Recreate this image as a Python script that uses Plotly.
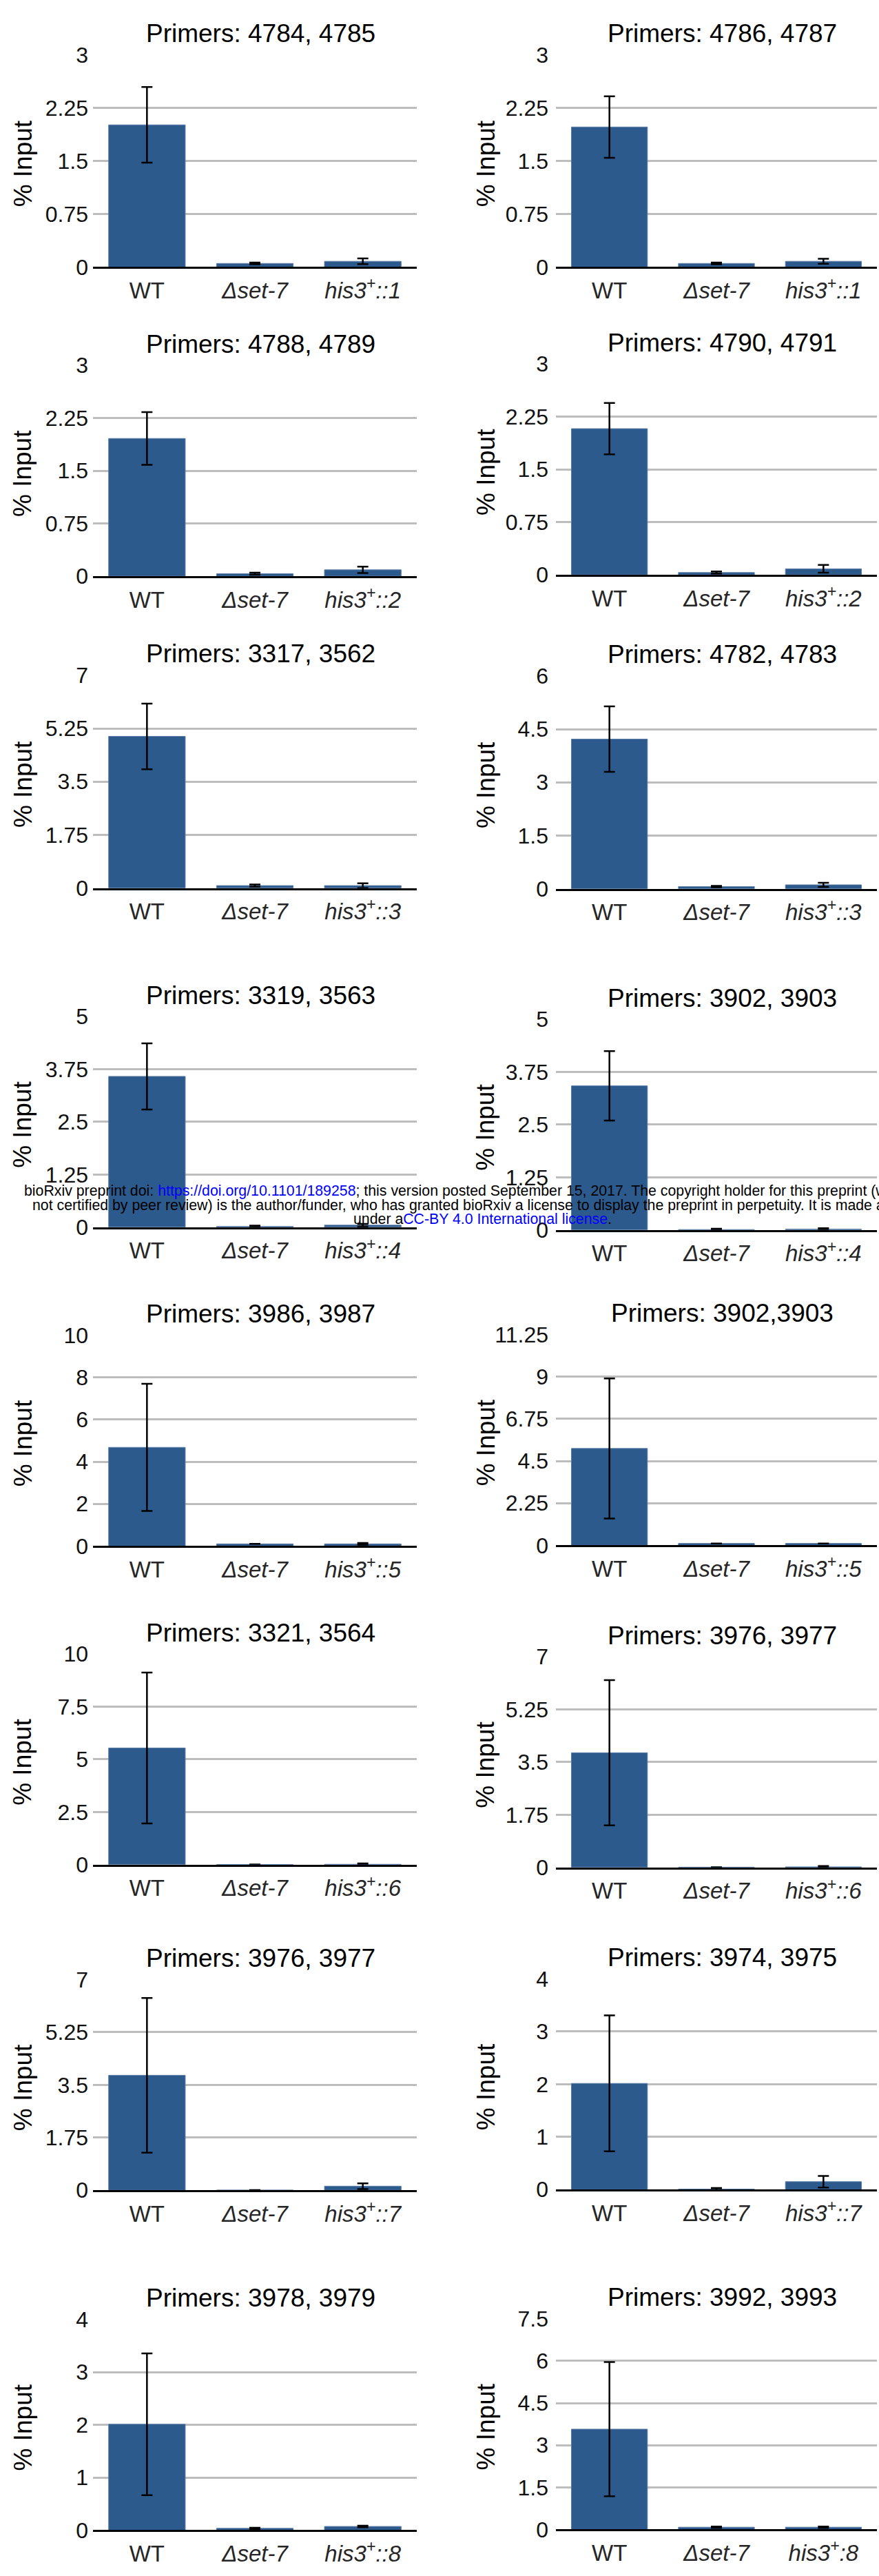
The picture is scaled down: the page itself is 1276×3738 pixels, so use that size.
import plotly.graph_objects as go

# ChIP-qPCR enrichment (% input) at each primer pair
titles = [
    "Primers: 4784, 4785", "Primers: 4786, 4787",
    "Primers: 4788, 4789", "Primers: 4790, 4791",
    "Primers: 3317, 3562", "Primers: 4782, 4783",
    "Primers: 3319, 3563", "Primers: 3902, 3903",
    "Primers: 3986, 3987", "Primers: 3902,3903",
    "Primers: 3321, 3564", "Primers: 3976, 3977",
    "Primers: 3976, 3977", "Primers: 3974, 3975",
    "Primers: 3978, 3979", "Primers: 3992, 3993",
]
y_max = [3, 3, 3, 3, 7, 6, 5, 5, 10, 11.25, 10, 7, 7, 4, 4, 7.5]
y_step = [0.75, 0.75, 0.75, 0.75, 1.75, 1.5, 1.25, 1.25, 2, 2.25, 2.5, 1.75, 1.75, 1, 1, 1.5]

wt = [2.01, 1.98, 1.96, 2.08, 4.99, 4.22, 3.58, 3.42, 4.68, 5.17, 5.54, 3.81, 3.82, 2.015, 2.01, 3.57]
wt_err = [0.535, 0.435, 0.375, 0.365, 1.08, 0.925, 0.785, 0.825, 3.015, 3.74, 3.58, 2.41, 2.57, 1.29, 1.345, 2.39]
set7 = [0.05, 0.05, 0.035, 0.032, 0.08, 0.06, 0.02, 0.01, 0.1, 0.1, 0.01, 0.01, 0.005, 0.01, 0.035, 0.08]
set7_err = [0.012, 0.012, 0.015, 0.015, 0.035, 0.02, 0.02, 0.02, None, None, None, None, None, 0.02, 0.012, 0.025]
his3 = [0.08, 0.08, 0.09, 0.085, 0.08, 0.11, 0.05, 0.02, 0.1, 0.1, 0.02, 0.02, 0.136, 0.15, 0.07, 0.08]
his3_err = [0.04, 0.035, 0.045, 0.055, 0.075, 0.06, 0.03, 0.02, 0.04, None, 0.04, 0.03, 0.095, 0.11, 0.015, 0.025]
his3_suffix = ["::1", "::1", "::2", "::2", "::3", "::3", "::4", "::4",
               "::5", "::5", "::6", "::6", "::7", "::7", "::8", ":8"]

# page geometry (pixels)
W, H = 1276, 3738
col_x = [(135, 605), (807, 1273)]
panel_y = [(62, 373), (62, 373), (517, 826), (515, 824), (971, 1283), (972, 1284),
           (1471, 1780), (1475, 1784), (1938, 2247), (1937, 2246), (2405, 2714),
           (2409, 2718), (2882, 3191), (2881, 3190), (3380, 3689), (3379, 3688)]

FONT = "Liberation Sans, Arial, Helvetica, sans-serif"
BAR = "#2c5a8c"


def px_x(v):
    return v / W


def px_y(v):
    return 1 - v / H


fig = go.Figure()
annotations = []
layout_axes = {}

for i in range(16):
    n = i + 1
    xs = "" if n == 1 else str(n)
    x0, x1 = col_x[i % 2]
    top, zero = panel_y[i]
    cats = ["WT", "<i>Δset-7</i>", f"<i>his3<sup>+</sup>{his3_suffix[i]}</i>"]
    errs = [wt_err[i], set7_err[i], his3_err[i]]
    fig.add_trace(go.Bar(
        x=cats, y=[wt[i], set7[i], his3[i]],
        xaxis="x" + xs, yaxis="y" + xs,
        marker=dict(color=BAR, line=dict(color="#5a7ca6", width=1)),
        error_y=dict(type="data", array=errs, visible=True,
                     color="black", thickness=2.5, width=8),
        showlegend=False, hoverinfo="skip",
    ))
    ticks = [k * y_step[i] for k in range(int(round(y_max[i] / y_step[i])) + 1)]
    layout_axes["xaxis" + xs] = dict(
        domain=[px_x(x0), px_x(x1)], anchor="y" + xs,
        type="category", range=[-0.5, 2.5],
        showline=True, linecolor="black", linewidth=3,
        showgrid=False, ticks="", ticklabelstandoff=3,
        tickfont=dict(family=FONT, size=33, color="#262626"),
        fixedrange=True,
    )
    layout_axes["yaxis" + xs] = dict(
        domain=[px_y(zero), px_y(top)], anchor="x" + xs,
        range=[0, y_max[i] * 1.0008],
        tickvals=ticks, ticktext=[f"{t:g}" for t in ticks],
        showgrid=True, gridcolor="#bdbdbd", gridwidth=2.5,
        zeroline=False, showline=False, ticks="",
        ticklabelstandoff=6 if i % 2 == 0 else 10,
        tickfont=dict(family=FONT, size=32, color="#111111"),
        fixedrange=True,
    )
    # panel title
    annotations.append(dict(
        text=titles[i], xref="paper", yref="paper",
        x=px_x((x0 + x1) / 2 + 8), y=px_y(top - 31),
        xanchor="center", yanchor="middle", showarrow=False,
        font=dict(family=FONT, size=37, color="black"),
    ))
    # y-axis title
    annotations.append(dict(
        text="% Input", xref="paper", yref="paper",
        x=px_x(x0 - 102), y=px_y((top + zero) / 2 + 4),
        xanchor="center", yanchor="middle", textangle=-90, showarrow=False,
        font=dict(family=FONT, size=37, color="black"),
    ))

# preprint notice printed across the page
BLUE = "<span style='color:#0000ff'>{}</span>"
notice = [
    ("bioRxiv preprint doi: " + BLUE.format("https://doi.org/10.1101/189258")
     + "; this version posted September 15, 2017. The copyright holder for this preprint (which was",
     33, 1727, "left"),
    ("not certified by peer review) is the author/funder, who has granted bioRxiv a license to "
     "display the preprint in perpetuity. It is made available", 45, 1748, "left"),
    ("under a" + BLUE.format("CC-BY 4.0 International license") + ".", 700, 1768, "center"),
]
for txt, x, y, anchor in notice:
    annotations.append(dict(
        text=txt, xref="paper", yref="paper", x=px_x(x), y=px_y(y),
        xanchor=anchor, yanchor="middle", showarrow=False,
        font=dict(family=FONT, size=21.3, color="black"),
    ))

fig.update_layout(
    width=W, height=H,
    margin=dict(l=0, r=0, t=0, b=0),
    paper_bgcolor="white", plot_bgcolor="white",
    bargap=0.29,
    annotations=annotations,
    **layout_axes,
)

fig.write_html("out.html", config={"displayModeBar": False})
